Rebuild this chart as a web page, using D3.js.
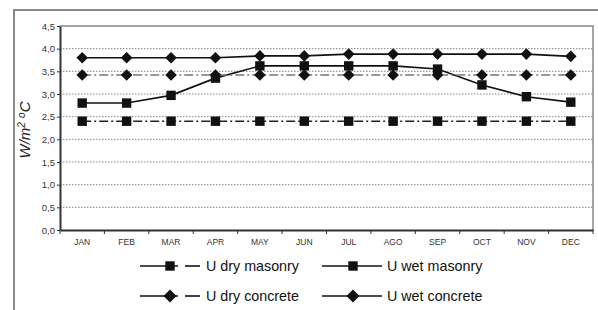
<!DOCTYPE html>
<html>
<head>
<meta charset="utf-8">
<script src="https://cdn.jsdelivr.net/npm/d3@7"></script>
<style>
body { margin: 0; background: #fff; }
svg { display: block; font-family: Arial, "Liberation Sans", sans-serif; }
.axis text { font-size: 8.5px; fill: #333; }
</style>
</head>
<body>
<div id="graf"></div>
<script>
// Datos
const meses = ["JAN","FEB","MAR","APR","MAY","JUN","JUL","AGO","SEP","OCT","NOV","DEC"]
const uDryMasonry = [2.4,2.4,2.4,2.4,2.4,2.4,2.4,2.4,2.4,2.4,2.4,2.4]
const uWetMasonry = [2.8,2.8,2.97,3.35,3.62,3.62,3.62,3.62,3.55,3.2,2.94,2.82]
const uDryConcrete = [3.42,3.42,3.42,3.42,3.42,3.42,3.42,3.42,3.42,3.42,3.42,3.42]
const uWetConcrete = [3.8,3.8,3.8,3.8,3.84,3.84,3.88,3.88,3.88,3.88,3.88,3.83]
const yTicks = [0,0.5,1,1.5,2,2.5,3,3.5,4,4.5]

const series = [
    {name: "U dry masonry", values: uDryMasonry, marker: "square", dash: "9,3,2,3", stroke: "#222"},
    {name: "U wet masonry", values: uWetMasonry, marker: "square", dash: null, stroke: "#111"},
    {name: "U dry concrete", values: uDryConcrete, marker: "diamond", dash: "9,3,2,3", stroke: "#777"},
    {name: "U wet concrete", values: uWetConcrete, marker: "diamond", dash: null, stroke: "#111"},
]

// Dimensiones
const anchoTotal = 598
const altoTotal = 310
const margins = {top: 26, right: 5, bottom: 80, left: 60}
const ancho = anchoTotal - margins.left - margins.right
const alto = altoTotal - margins.top - margins.bottom

const svg = d3.select("#graf").append("svg")
    .attr("width", anchoTotal)
    .attr("height", altoTotal)

// marco exterior
svg.append("path")
    .attr("d", `M14,310 L14,10 L598,10`)
    .attr("fill", "none")
    .attr("stroke", "#888")
    .attr("stroke-width", 2)

const g = svg.append("g")
    .attr("transform", `translate(${margins.left}, ${margins.top})`)

// Escaladores
const x = d3.scaleBand().domain(meses).range([0, ancho])
const y = d3.scaleLinear().domain([0, 4.5]).range([alto, 0])
const cx = (i) => x(meses[i]) + x.bandwidth() / 2

// grid
g.selectAll(".grid")
    .data(yTicks.filter(d => d > 0 && d < 4.5))
    .enter().append("line")
    .attr("x1", 0).attr("x2", ancho)
    .attr("y1", d => y(d)).attr("y2", d => y(d))
    .attr("stroke", "#666")
    .attr("stroke-width", 0.8)
    .attr("stroke-dasharray", "1.5,1.5")

// borde superior y derecho
g.append("path")
    .attr("d", `M0,${y(4.5)} L${ancho},${y(4.5)} L${ancho},${alto}`)
    .attr("fill", "none")
    .attr("stroke", "#888")
    .attr("stroke-width", 1.5)

// Ejes
const yAxis = d3.axisLeft(y).tickValues(yTicks).tickSize(3).tickSizeOuter(0)
    .tickFormat(d => d3.format(".1f")(d).replace(".", ","))
const yAxisGroup = g.append("g").classed("axis", true).call(yAxis)
yAxisGroup.select(".domain").attr("stroke", "#333").attr("stroke-width", 2)
yAxisGroup.selectAll(".tick line").attr("stroke", "#333")
yAxisGroup.selectAll("text").attr("x", -5).style("font-size", "9.5px")

const xAxisGroup = g.append("g").classed("axis", true)
    .attr("transform", `translate(0,${alto})`)
    .call(d3.axisBottom(x).tickSize(0))
xAxisGroup.select(".domain").attr("stroke", "#333").attr("stroke-width", 2)
xAxisGroup.selectAll("text").attr("y", 9)
// marcas entre categorías
g.selectAll(".xtick")
    .data(d3.range(13))
    .enter().append("line")
    .attr("x1", i => i * x.step()).attr("x2", i => i * x.step())
    .attr("y1", alto).attr("y2", alto + 4)
    .attr("stroke", "#333")

// y label
svg.append("text")
    .attr("transform", "translate(30,130) rotate(-90)")
    .attr("text-anchor", "middle")
    .style("font-size", "15px")
    .style("font-style", "italic")
    .attr("fill", "#222")
    .html('W/m<tspan baseline-shift="super" font-size="10px">2</tspan> <tspan font-size="10px" baseline-shift="super">o</tspan>C')

const markerPath = (type, r) => type === "square"
    ? `M${-r},${-r}H${r}V${r}H${-r}Z`
    : `M0,${-r}L${r},0L0,${r}L${-r},0Z`

// lineas
const line = d3.line().x((d, i) => cx(i)).y(d => y(d))
series.forEach(s => {
    g.append("path")
        .datum(s.values)
        .attr("d", line)
        .attr("fill", "none")
        .attr("stroke", s.stroke)
        .attr("stroke-width", 1.6)
        .attr("stroke-dasharray", s.dash)
    g.selectAll(null)
        .data(s.values)
        .enter().append("path")
        .attr("d", markerPath(s.marker, s.marker === "square" ? 4.7 : 5.8))
        .attr("transform", (d, i) => `translate(${cx(i)},${y(d)})`)
        .attr("fill", "#111")
})

// Leyenda
const legendPos = [
    {x: 140, y: 266}, {x: 322, y: 266},
    {x: 140, y: 296}, {x: 322, y: 296},
]
series.forEach((s, k) => {
    const p = legendPos[k]
    const lg = svg.append("g").attr("transform", `translate(${p.x},${p.y})`)
    if (s.dash) {
        lg.append("line").attr("x1", 0).attr("x2", 38).attr("y1", 0).attr("y2", 0)
            .attr("stroke", "#111").attr("stroke-width", 1.6)
        lg.append("line").attr("x1", 45).attr("x2", 60).attr("y1", 0).attr("y2", 0)
            .attr("stroke", "#111").attr("stroke-width", 1.6)
        lg.append("path").attr("d", markerPath(s.marker, s.marker === "square" ? 4.7 : 6.5))
            .attr("transform", `translate(30,0)`).attr("fill", "#111")
    } else {
        lg.append("line").attr("x1", 0).attr("x2", 60).attr("y1", 0).attr("y2", 0)
            .attr("stroke", "#111").attr("stroke-width", 1.6)
        lg.append("path").attr("d", markerPath(s.marker, s.marker === "square" ? 4.7 : 6.5))
            .attr("transform", `translate(31,0)`).attr("fill", "#111")
    }
    lg.append("text")
        .attr("x", s.dash ? 66 : 65)
        .attr("y", 5)
        .style("font-size", "14.3px")
        .attr("fill", "#111")
        .text(s.name)
})
</script>
</body>
</html>
